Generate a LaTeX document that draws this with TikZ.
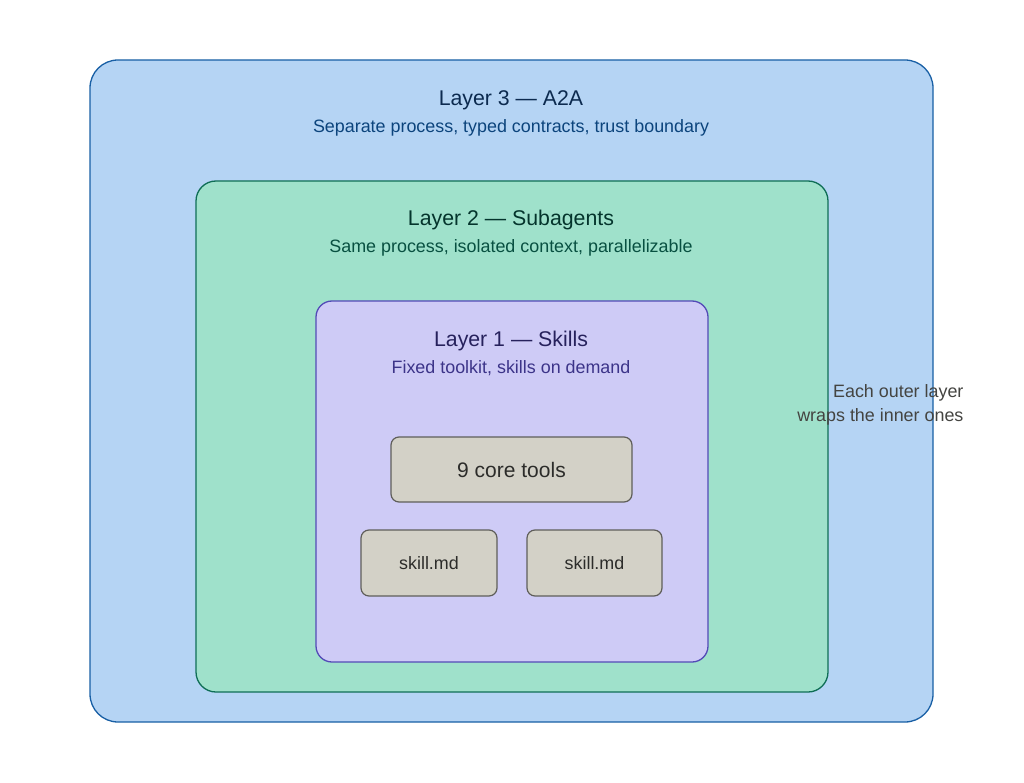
\documentclass[tikz,border=0pt]{standalone}
\usepackage{fontspec}
\setmainfont{Liberation Sans}
\usepackage{tikz}
\usetikzlibrary{positioning}
\usepackage{xcolor}

\definecolor{blueFill}{HTML}{B5D4F4}
\definecolor{blueLine}{HTML}{185FA5}
\definecolor{blueHead}{HTML}{0C2A4F}
\definecolor{blueSub}{HTML}{0C447C}
\definecolor{greenFill}{HTML}{9FE1CB}
\definecolor{greenLine}{HTML}{0F6E56}
\definecolor{greenHead}{HTML}{04342C}
\definecolor{greenSub}{HTML}{085041}
\definecolor{purpleFill}{HTML}{CECBF6}
\definecolor{purpleLine}{HTML}{534AB7}
\definecolor{purpleHead}{HTML}{26215C}
\definecolor{purpleSub}{HTML}{3C3489}
\definecolor{toolFill}{HTML}{D3D1C7}
\definecolor{toolLine}{HTML}{5F5E5A}
\definecolor{toolText}{HTML}{2C2C2A}
\definecolor{noteText}{HTML}{444441}

\tikzset{
    heading/.style={font=\fontsize{21.3}{25}\selectfont},
    subline/.style={font=\fontsize{17.9}{24}\selectfont},
    toolbox/.style={draw=toolLine, fill=toolFill, line width=1.2pt, rounded corners=8pt,
        text=toolText, inner sep=0pt}
}

\begin{document}
\begin{tikzpicture}[x=1pt, y=-1pt]
        \useasboundingbox (0,0) rectangle (1024,783);

        % Draw layer 3 and label
        \draw[blueLine, fill=blueFill, line width=1.3pt, rounded corners=28pt] (90,60) rectangle (933,722);
        \node[heading, text=blueHead] (l3title) at (511,100) {Layer 3 — A2A};
        \node[subline, text=blueSub, below=2.5pt of l3title] (l3sub) {Separate process, typed contracts, trust boundary};

        % Draw layer 2 and label
        \draw[greenLine, fill=greenFill, line width=1.3pt, rounded corners=20pt] (196,181) rectangle (828,692);
        \node[heading, text=greenHead] (l2title) at (511,220) {Layer 2 — Subagents};
        \node[subline, text=greenSub, below=2.5pt of l2title] (l2sub) {Same process, isolated context, parallelizable};

        % Draw layer 1 and label
        \draw[purpleLine, fill=purpleFill, line width=1.3pt, rounded corners=16pt] (316,301) rectangle (708,662);
        \node[heading, text=purpleHead] (l1title) at (511,341) {Layer 1 — Skills};
        \node[subline, text=purpleSub, below=2.5pt of l1title] (l1sub) {Fixed toolkit, skills on demand};

        % Tools and skills
        \node[toolbox, minimum width=241pt, minimum height=65pt, font=\fontsize{21}{25}\selectfont] (core) at (511.5,469.5) {9 core tools};
        \node[toolbox, minimum width=136pt, minimum height=66pt, font=\fontsize{17.9}{21}\selectfont] (skillA) at (429,563) {skill.md};
        \node[toolbox, minimum width=135pt, minimum height=66pt, font=\fontsize{17.9}{21}\selectfont] (skillB) at (594.5,563) {skill.md};

        % Side note
        \node[subline, text=noteText, align=right, anchor=north east] (note) at (967,381) {Each outer layer\\wraps the inner ones};
    \end{tikzpicture}
\end{document}
